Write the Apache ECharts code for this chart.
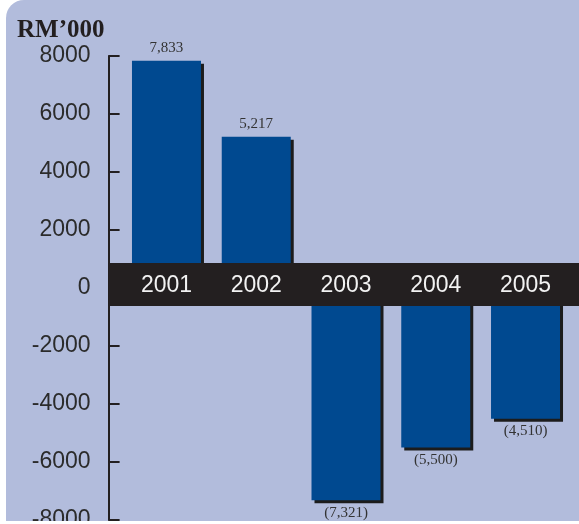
<!DOCTYPE html>
<html>
<head>
<meta charset="utf-8">
<script src="https://cdn.jsdelivr.net/npm/echarts@6/dist/echarts.min.js"></script>
<style>
  html, body { margin: 0; padding: 0; background: #ffffff; }
  #wrap { position: absolute; left: 6px; top: 0; width: 573px; height: 521px;
          background: #b2bcdc; border-top-left-radius: 18px; overflow: hidden; }
  #chart { width: 573px; height: 521px; }
</style>
</head>
<body>
<div id="wrap"><div id="chart"></div></div>
<script>
const years = ['2001', '2002', '2003', '2004', '2005'];
const profits = [7833, 5217, -7321, -5500, -4510];
const unitLabel = 'RM\u2019000';
const yMin = -8000, yMax = 8000, yStep = 2000;
const bandTop = 860, bandBottom = -620;

function fmt(v) {
  const s = Math.abs(v).toLocaleString('en-US');
  return v < 0 ? '(' + s + ')' : s;
}

const chart = echarts.init(document.getElementById('chart'), null, { renderer: 'canvas' });
const option = {
  backgroundColor: 'transparent',
  animation: false,
  title: {
    text: unitLabel, left: 6, top: 13,
    textStyle: { fontFamily: 'Liberation Serif', fontWeight: 'bold', fontSize: 25, color: '#231f20' }
  },
  grid: { left: 115.6, right: 8.6, top: 56, bottom: 1, containLabel: false, outerBoundsMode: 'none' },
  xAxis: {
    type: 'category', data: years, z: 10,
    axisLine: { show: false, onZero: false },
    axisTick: { show: false },
    axisLabel: { color: '#f2f2f2', fontFamily: 'Liberation Sans', fontSize: 23, margin: -2, verticalAlign: 'middle' }
  },
  yAxis: {
    type: 'value', min: yMin, max: yMax, interval: yStep, offset: 13,
    splitLine: { show: false },
    axisLine: { show: true, lineStyle: { color: '#231f20', width: 2 } },
    axisTick: { show: true, inside: true, length: 11, lineStyle: { color: '#231f20', width: 2 } },
    axisLabel: { color: '#2b2b2b', fontFamily: 'Liberation Sans', fontSize: 23, margin: 18, formatter: v => String(v) }
  },
  series: [{
    type: 'bar', barWidth: 69,
    data: profits.map(v => ({ value: v, label: { position: v < 0 ? 'bottom' : 'top' } })),
    itemStyle: { color: '#004990', shadowColor: '#1c1c1c', shadowOffsetX: 3, shadowOffsetY: 3, shadowBlur: 0 },
    label: {
      show: true, distance: 5, color: '#333333', fontFamily: 'Liberation Serif', fontSize: 15,
      formatter: p => fmt(p.value)
    }
  }]
};
chart.setOption(option);

const zeroPx = chart.convertToPixel({ yAxisIndex: 0 }, 0);
const bottomPx = chart.convertToPixel({ yAxisIndex: 0 }, yMin);
const yTopPx = chart.convertToPixel({ yAxisIndex: 0 }, bandTop);
const yBotPx = chart.convertToPixel({ yAxisIndex: 0 }, bandBottom);
const axisX = chart.convertToPixel({ xAxisIndex: 0 }, years[0]) - 44.9 - 13;
chart.setOption({
  xAxis: { offset: -(bottomPx - zeroPx) },
  graphic: [{
    type: 'rect', z: 5,
    shape: { x: axisX, y: yTopPx, width: 573 - axisX, height: yBotPx - yTopPx },
    style: { fill: '#231f20' }
  }]
});
</script>
</body>
</html>
